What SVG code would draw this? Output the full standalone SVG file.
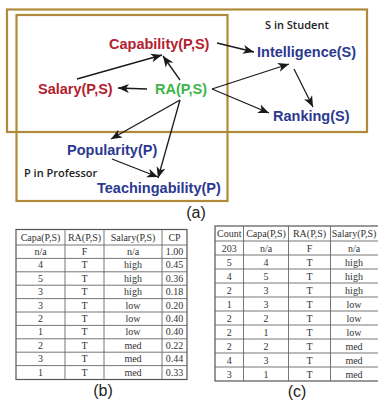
<svg xmlns="http://www.w3.org/2000/svg" width="378" height="402" viewBox="0 0 378 402">
<style>
.frame{fill:none;stroke:#B08A3A;stroke-width:2.2}
.lbl{font-family:"Liberation Sans",Arial,sans-serif;font-weight:bold;font-size:14.5px}
.red{fill:#B3212E}
.blue{fill:#2B3990}
.green{fill:#3DB54A}
.cap{font-family:"Open Sans","Liberation Sans",sans-serif;font-weight:600;font-size:11px;fill:#222}
.conn{stroke:#1a1a1a;stroke-width:1.3;fill:none;marker-end:url(#ah)}
.sub{font-family:"Liberation Sans",Arial,sans-serif;font-size:16px;fill:#222;text-anchor:middle}
.tb{fill:#fff;stroke:#555;stroke-width:1.2}
.gl{stroke:#666;stroke-width:0.9}
.td{font-family:"Liberation Serif","Times New Roman",serif;font-size:10px;fill:#333;text-anchor:middle}
</style>
<defs>
<marker id="ah" markerUnits="userSpaceOnUse" markerWidth="12" markerHeight="10" viewBox="0 0 12 10" refX="11" refY="5" orient="auto">
<path d="M0,0.5 L11,5 L0,9.5 L3,5 Z" fill="#1a1a1a"/>
</marker>
</defs>
<rect width="378" height="402" fill="#fff"/>
<g id="student-frame">
<rect class="frame" x="7" y="9.5" width="360" height="122.5"/>
<text class="cap" x="265" y="29">S in Student</text>
</g>
<g id="professor-frame">
<rect class="frame" x="16.5" y="15" width="211" height="186"/>
<text class="cap" x="24" y="177">P in Professor</text>
</g>
<g id="connectors">
<line class="conn" x1="217" y1="43" x2="254" y2="52"/>
<line class="conn" x1="77" y1="79" x2="162" y2="55"/>
<line class="conn" x1="180" y1="80" x2="163" y2="56"/>
<line class="conn" x1="147" y1="89" x2="118" y2="88"/>
<line class="conn" x1="212" y1="89" x2="289" y2="64"/>
<line class="conn" x1="212" y1="89" x2="269" y2="113"/>
<line class="conn" x1="294" y1="69" x2="313" y2="107"/>
<line class="conn" x1="180" y1="100" x2="111" y2="139"/>
<line class="conn" x1="180" y1="100" x2="158" y2="178"/>
<line class="conn" x1="112" y1="159" x2="158" y2="177"/>
</g>
<g id="capability"><text class="lbl red" x="109" y="49">Capability(P,S)</text></g>
<g id="intelligence"><text class="lbl blue" x="257" y="57">Intelligence(S)</text></g>
<g id="salary"><text class="lbl red" x="38" y="94">Salary(P,S)</text></g>
<g id="ra"><text class="lbl green" x="155" y="94">RA(P,S)</text></g>
<g id="ranking"><text class="lbl blue" x="273" y="121">Ranking(S)</text></g>
<g id="popularity"><text class="lbl blue" x="67" y="155">Popularity(P)</text></g>
<g id="teachingability"><text class="lbl blue" x="97" y="193">Teachingability(P)</text></g>
<text class="sub" x="196" y="218">(a)</text>

<g id="table-b">
<rect class="tb" x="16" y="229.5" width="171" height="150"/>
<line class="gl" x1="16" y1="245" x2="187" y2="245"/>
<line class="gl" x1="16" y1="258.4" x2="187" y2="258.4"/>
<line class="gl" x1="16" y1="271.8" x2="187" y2="271.8"/>
<line class="gl" x1="16" y1="285.2" x2="187" y2="285.2"/>
<line class="gl" x1="16" y1="298.6" x2="187" y2="298.6"/>
<line class="gl" x1="16" y1="312" x2="187" y2="312"/>
<line class="gl" x1="16" y1="325.4" x2="187" y2="325.4"/>
<line class="gl" x1="16" y1="338.8" x2="187" y2="338.8"/>
<line class="gl" x1="16" y1="352.2" x2="187" y2="352.2"/>
<line class="gl" x1="16" y1="365.6" x2="187" y2="365.6"/>
<line class="gl" x1="65" y1="229.5" x2="65" y2="379.5"/>
<line class="gl" x1="104" y1="229.5" x2="104" y2="379.5"/>
<line class="gl" x1="162" y1="229.5" x2="162" y2="379.5"/>
<text class="td" x="40.5" y="241">Capa(P,S)</text><text class="td" x="84.5" y="241">RA(P,S)</text><text class="td" x="133" y="241">Salary(P,S)</text><text class="td" x="174.5" y="241">CP</text>
<text class="td" x="40.5" y="255">n/a</text><text class="td" x="84.5" y="255">F</text><text class="td" x="133" y="255">n/a</text><text class="td" x="174.5" y="255">1.00</text>
<text class="td" x="40.5" y="268.4">4</text><text class="td" x="84.5" y="268.4">T</text><text class="td" x="133" y="268.4">high</text><text class="td" x="174.5" y="268.4">0.45</text>
<text class="td" x="40.5" y="281.8">5</text><text class="td" x="84.5" y="281.8">T</text><text class="td" x="133" y="281.8">high</text><text class="td" x="174.5" y="281.8">0.36</text>
<text class="td" x="40.5" y="295.2">3</text><text class="td" x="84.5" y="295.2">T</text><text class="td" x="133" y="295.2">high</text><text class="td" x="174.5" y="295.2">0.18</text>
<text class="td" x="40.5" y="308.6">3</text><text class="td" x="84.5" y="308.6">T</text><text class="td" x="133" y="308.6">low</text><text class="td" x="174.5" y="308.6">0.20</text>
<text class="td" x="40.5" y="322">2</text><text class="td" x="84.5" y="322">T</text><text class="td" x="133" y="322">low</text><text class="td" x="174.5" y="322">0.40</text>
<text class="td" x="40.5" y="335.4">1</text><text class="td" x="84.5" y="335.4">T</text><text class="td" x="133" y="335.4">low</text><text class="td" x="174.5" y="335.4">0.40</text>
<text class="td" x="40.5" y="348.8">2</text><text class="td" x="84.5" y="348.8">T</text><text class="td" x="133" y="348.8">med</text><text class="td" x="174.5" y="348.8">0.22</text>
<text class="td" x="40.5" y="362.2">3</text><text class="td" x="84.5" y="362.2">T</text><text class="td" x="133" y="362.2">med</text><text class="td" x="174.5" y="362.2">0.44</text>
<text class="td" x="40.5" y="375.6">1</text><text class="td" x="84.5" y="375.6">T</text><text class="td" x="133" y="375.6">med</text><text class="td" x="174.5" y="375.6">0.33</text>
</g>
<text class="sub" x="103" y="396">(b)</text>

<g id="table-c">
<rect class="tb" x="215" y="226" width="165" height="155"/>
<line class="gl" x1="215" y1="241" x2="380" y2="241"/>
<line class="gl" x1="215" y1="255" x2="380" y2="255"/>
<line class="gl" x1="215" y1="269" x2="380" y2="269"/>
<line class="gl" x1="215" y1="283" x2="380" y2="283"/>
<line class="gl" x1="215" y1="297" x2="380" y2="297"/>
<line class="gl" x1="215" y1="311" x2="380" y2="311"/>
<line class="gl" x1="215" y1="325" x2="380" y2="325"/>
<line class="gl" x1="215" y1="339" x2="380" y2="339"/>
<line class="gl" x1="215" y1="353" x2="380" y2="353"/>
<line class="gl" x1="215" y1="367" x2="380" y2="367"/>
<line class="gl" x1="243.5" y1="226" x2="243.5" y2="381"/>
<line class="gl" x1="288.5" y1="226" x2="288.5" y2="381"/>
<line class="gl" x1="330.5" y1="226" x2="330.5" y2="381"/>
<text class="td" x="229.2" y="237">Count</text><text class="td" x="266" y="237">Capa(P,S)</text><text class="td" x="309.5" y="237">RA(P,S)</text><text class="td" x="354" y="237">Salary(P,S)</text>
<text class="td" x="229.2" y="251.5">203</text><text class="td" x="266" y="251.5">n/a</text><text class="td" x="309.5" y="251.5">F</text><text class="td" x="354" y="251.5">n/a</text>
<text class="td" x="229.2" y="265.5">5</text><text class="td" x="266" y="265.5">4</text><text class="td" x="309.5" y="265.5">T</text><text class="td" x="354" y="265.5">high</text>
<text class="td" x="229.2" y="279.5">4</text><text class="td" x="266" y="279.5">5</text><text class="td" x="309.5" y="279.5">T</text><text class="td" x="354" y="279.5">high</text>
<text class="td" x="229.2" y="293.5">2</text><text class="td" x="266" y="293.5">3</text><text class="td" x="309.5" y="293.5">T</text><text class="td" x="354" y="293.5">high</text>
<text class="td" x="229.2" y="307.5">1</text><text class="td" x="266" y="307.5">3</text><text class="td" x="309.5" y="307.5">T</text><text class="td" x="354" y="307.5">low</text>
<text class="td" x="229.2" y="321.5">2</text><text class="td" x="266" y="321.5">2</text><text class="td" x="309.5" y="321.5">T</text><text class="td" x="354" y="321.5">low</text>
<text class="td" x="229.2" y="335.5">2</text><text class="td" x="266" y="335.5">1</text><text class="td" x="309.5" y="335.5">T</text><text class="td" x="354" y="335.5">low</text>
<text class="td" x="229.2" y="349.5">2</text><text class="td" x="266" y="349.5">2</text><text class="td" x="309.5" y="349.5">T</text><text class="td" x="354" y="349.5">med</text>
<text class="td" x="229.2" y="363.5">4</text><text class="td" x="266" y="363.5">3</text><text class="td" x="309.5" y="363.5">T</text><text class="td" x="354" y="363.5">med</text>
<text class="td" x="229.2" y="377.5">3</text><text class="td" x="266" y="377.5">1</text><text class="td" x="309.5" y="377.5">T</text><text class="td" x="354" y="377.5">med</text>
</g>
<text class="sub" x="297" y="397">(c)</text>
</svg>
